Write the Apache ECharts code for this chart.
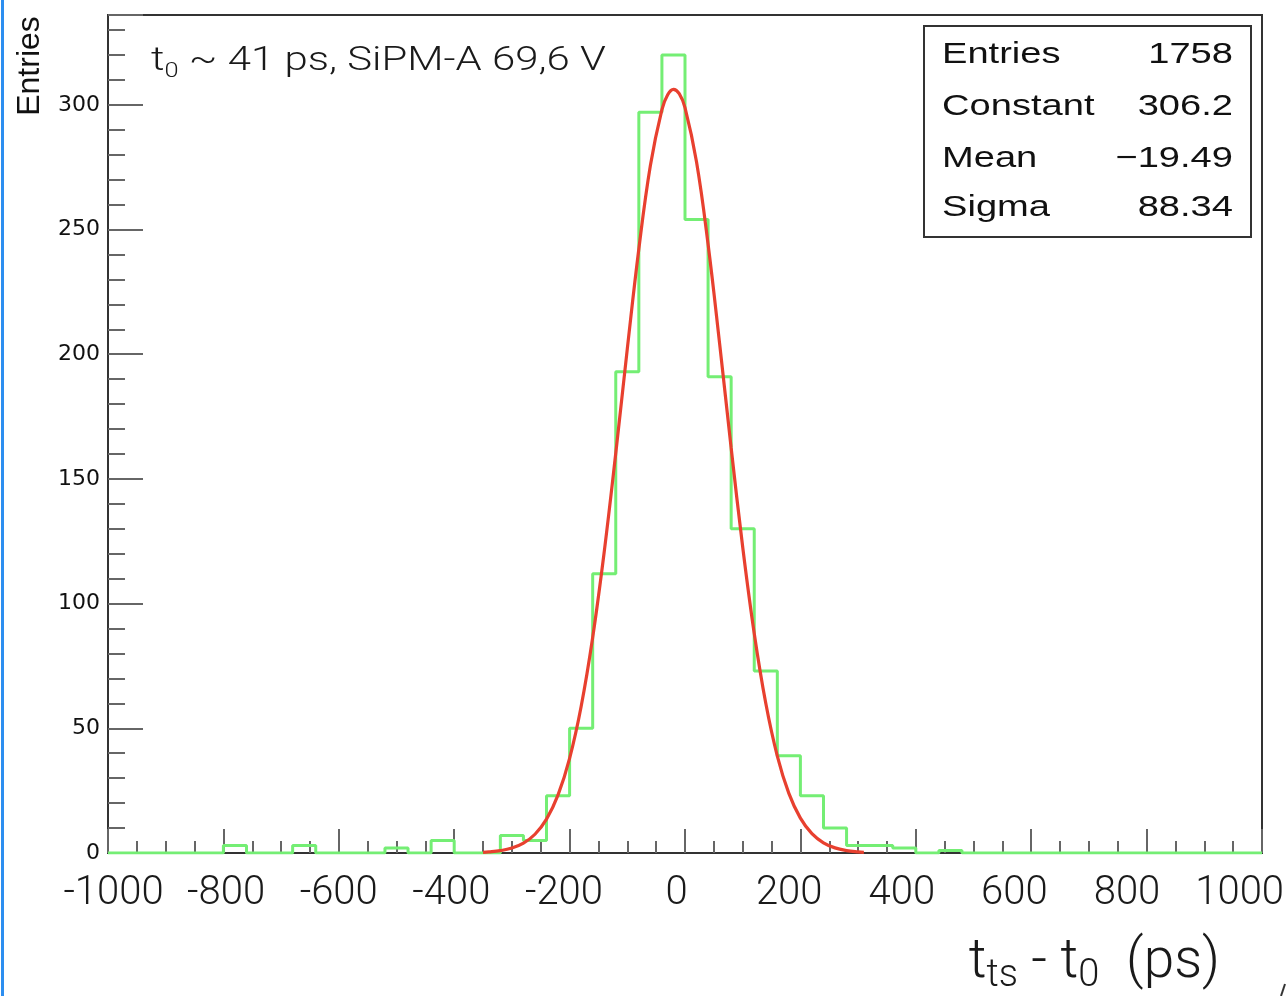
<!DOCTYPE html>
<html><head><meta charset="utf-8">
<script src="https://cdn.jsdelivr.net/npm/echarts@6/dist/echarts.min.js"></script>
<style>html,body{margin:0;padding:0;background:#fff;overflow:hidden}#c{width:1287px;height:996px}</style>
</head><body><div id="c"></div>
<script>
// ---- data ----
const BIN_MIN = -1000;
const BIN_WIDTH = 40;
// counts per 40 ps bin, from -1000 to +1000 (50 bins)
const binCounts = [
  0, 0, 0, 0, 0, 3, 0, 0, 3, 0,
  0, 0, 2, 0, 5, 0, 0, 7, 5, 23,
  50, 112, 193, 297, 320, 254, 191, 130, 73, 39,
  23, 10, 3, 3, 2, 0, 1, 0, 0, 0,
  0, 0, 0, 0, 0, 0, 0, 0, 0, 0
];
// gaussian fit curve
const fitX = [-350, -340, -320, -300, -280, -260, -240, -220, -200, -180, -160, -140, -120, -100, -80, -60, -40, -30, -20, -10, 0, 20, 40, 60, 80, 100, 120, 140, 160, 180, 200, 220, 240, 260, 280, 300, 310];
const fitY = [0.28, 0.42, 0.94, 1.98, 3.96, 7.52, 13.58, 23.30, 37.96, 58.76, 86.42, 120.75, 160.28, 202.13, 242.17, 275.64, 298.06, 304.04, 306.19, 304.44, 298.84, 277.08, 244.08, 204.26, 162.40, 122.67, 88.02, 60.02, 38.87, 23.91, 13.98, 7.76, 4.10, 2.05, 0.98, 0.44, 0.29];
const xTickLabels = ['-1000', '-800', '-600', '-400', '-200', '0', '200', '400', '600', '800', '1000'];
const yTickLabels = ['0', '50', '100', '150', '200', '250', '300'];
const statsLabels = ['Entries', 'Constant', 'Mean', 'Sigma'];
const statsValues = ['1758', '306.2', '\u221219.49', '88.34'];
const annotationMain = ' ~ 41 ps, SiPM-A 69,6 V';
const yTitle = 'Entries';

// ---- build series data ----
const histData = binCounts.map((c, i) => [BIN_MIN + i * BIN_WIDTH, c]);
histData.push([BIN_MIN + binCounts.length * BIN_WIDTH, binCounts[binCounts.length - 1]]);
const fitData = fitX.map((x, i) => [x, fitY[i]]);

const AX = '#333333', TK = '#666666';
const chart = echarts.init(document.getElementById('c'), null, {renderer: 'canvas'});

function statText(str, x, y, align) {
  return {type: 'text', x: x, y: y, scaleX: 1.27, z: 101,
    style: {text: str, x: 0, y: 0, align: align, textAlign: align, verticalAlign: 'middle', textVerticalAlign: 'middle',
      fontSize: 30, fontFamily: 'Liberation Sans', fill: '#111'}};
}
const statRowsY = [55, 107, 159, 208];
const statEls = [];
statsLabels.forEach((l, i) => {
  statEls.push(statText(l, 942, statRowsY[i], 'left'));
  statEls.push(statText(statsValues[i], 1233, statRowsY[i], 'right'));
});

chart.setOption({
  animation: false,
  backgroundColor: '#ffffff',
  grid: [
    {left: 108, top: 15, width: 1154, height: 838, show: true, borderColor: AX, borderWidth: 2, backgroundColor: 'transparent'},
    {left: 113.5, top: 15, width: 1127.5, height: 838, show: false}
  ],
  xAxis: [
    {type: 'value', gridIndex: 0, position: 'bottom', min: -1000, max: 1000, interval: 200,
      axisLine: {show: true, onZero: false, lineStyle: {color: AX, width: 2}},
      axisTick: {show: true, inside: true, length: 24, lineStyle: {color: TK, width: 2}},
      axisLabel: {show: false}, splitLine: {show: false}},
    {type: 'value', gridIndex: 0, position: 'bottom', min: -1000, max: 1000, interval: 50,
      axisLine: {show: false, onZero: false},
      axisTick: {show: true, inside: true, length: 12, lineStyle: {color: TK, width: 2}},
      axisLabel: {show: false}, splitLine: {show: false}},
    {type: 'value', gridIndex: 1, position: 'bottom', min: -1000, max: 1000, interval: 200,
      axisLine: {show: false, onZero: false}, axisTick: {show: false}, splitLine: {show: false},
      axisLabel: {show: true, showMinLabel: true, showMaxLabel: true, margin: 21, fontSize: 40,
        fontFamily: 'Roboto', fontWeight: 300, color: '#1a1a1a',
        formatter: v => xTickLabels[Math.round((v + 1000) / 200)] || ''}}
  ],
  yAxis: [
    {type: 'value', gridIndex: 0, position: 'left', min: 0, max: 336, interval: 50,
      axisLine: {show: true, onZero: false, lineStyle: {color: AX, width: 2}},
      axisTick: {show: true, inside: true, length: 35, lineStyle: {color: TK, width: 2}},
      axisLabel: {show: true, margin: 8, fontSize: 22, fontFamily: 'DejaVu Sans', fontWeight: 'normal', color: '#111',
        formatter: v => (v % 50 === 0 ? (yTickLabels[v / 50] || '') : '')},
      splitLine: {show: false}},
    {type: 'value', gridIndex: 0, position: 'left', min: 0, max: 336, interval: 10,
      axisLine: {show: false, onZero: false},
      axisTick: {show: true, inside: true, length: 17, lineStyle: {color: TK, width: 2}},
      axisLabel: {show: false}, splitLine: {show: false}},
    {type: 'value', gridIndex: 1, min: 0, max: 336, show: false}
  ],
  series: [
    {type: 'line', name: 'hist', xAxisIndex: 0, yAxisIndex: 0, data: histData, step: 'end',
      symbol: 'none', clip: true, lineStyle: {color: '#74ee74', width: 3}, z: 3},
    {type: 'line', name: 'fit', xAxisIndex: 0, yAxisIndex: 0, data: fitData, smooth: 0.4,
      symbol: 'none', clip: true, lineStyle: {color: '#e8402f', width: 3.2}, z: 4}
  ],
  graphic: [
    {type: 'rect', shape: {x: 1, y: 0, width: 3, height: 996}, style: {fill: '#2c8ef0'}, z: 100},
    {type: 'text', x: 30, y: 66, rotation: Math.PI / 2, z: 100,
      style: {text: yTitle, align: 'center', textAlign: 'center', verticalAlign: 'middle', textVerticalAlign: 'middle',
        fontSize: 32, fontFamily: 'Liberation Sans', fill: '#111'}},
    {type: 'text', x: 151, y: 62, scaleX: 1.27, z: 100,
      style: {text: '{m|t}{s|0}{m|' + annotationMain + '}', align: 'left', textAlign: 'left', verticalAlign: 'middle', textVerticalAlign: 'middle',
        rich: {
          m: {fontSize: 33, fontFamily: 'Roboto', fontWeight: 300, lineHeight: 40, fill: '#1a1a1a', color: '#1a1a1a'},
          s: {fontSize: 20, fontFamily: 'Roboto', fontWeight: 300, lineHeight: 24, verticalAlign: 'bottom', fill: '#1a1a1a', color: '#1a1a1a'}
        }}},
    {type: 'rect', shape: {x: 924, y: 26, width: 327, height: 211}, style: {fill: '#ffffff', stroke: AX, lineWidth: 2}, z: 100},
    ...statEls,
    {type: 'text', x: 1220, y: 963, z: 100,
      style: {text: '{m|t}{s|ts}{m| - t}{s|0}{m|  (ps)}', align: 'right', textAlign: 'right', verticalAlign: 'middle', textVerticalAlign: 'middle',
        rich: {
          m: {fontSize: 55, fontFamily: 'Roboto', fontWeight: 300, lineHeight: 64, fill: '#1a1a1a', color: '#1a1a1a'},
          s: {fontSize: 38, fontFamily: 'Roboto', fontWeight: 300, lineHeight: 42, verticalAlign: 'bottom', fill: '#1a1a1a', color: '#1a1a1a'}
        }}},
    {type: 'line', shape: {x1: 1281, y1: 996, x2: 1285, y2: 984}, style: {stroke: '#333', lineWidth: 2}, z: 100}
  ]
});
</script>
</body></html>
